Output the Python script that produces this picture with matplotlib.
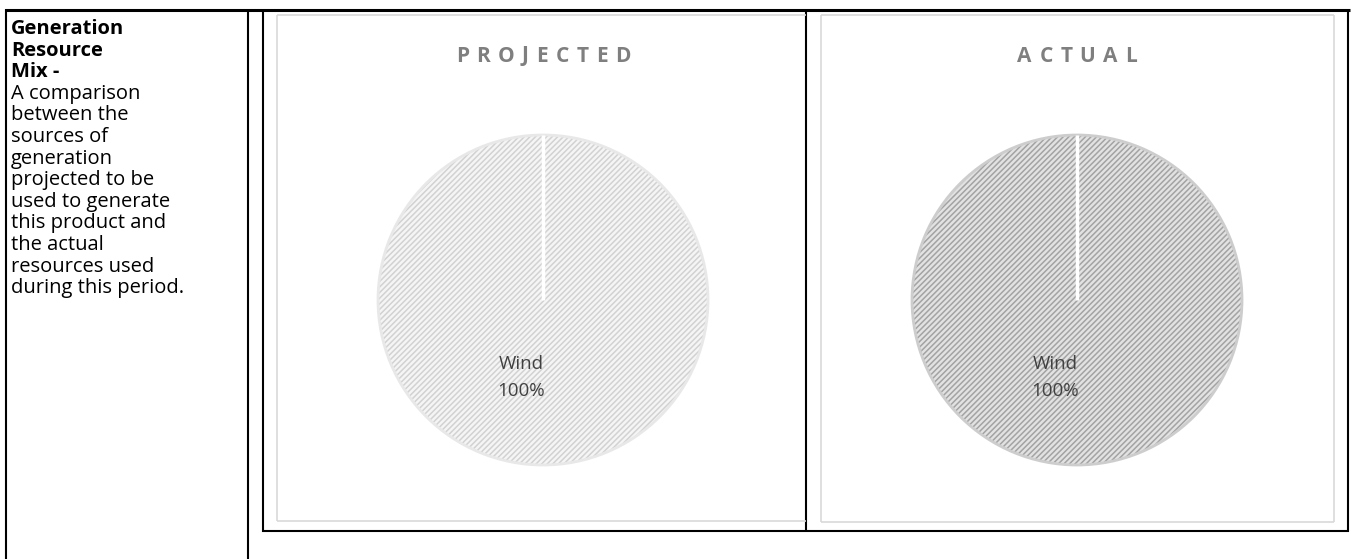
import matplotlib
matplotlib.use('Agg')
import matplotlib.pyplot as plt
from matplotlib.lines import Line2D
import numpy as np

# data
categories = ['Wind']
projected = [100]
actual = [100]
panel_titles = ['PROJECTED', 'ACTUAL']
left_heading = ['Generation', 'Resource', 'Mix -']
left_body = ['A comparison', 'between the', 'sources of', 'generation',
             'projected to be', 'used to generate', 'this product and',
             'the actual', 'resources used', 'during this period.']

W, H = 1351, 559
plt.rcParams['font.family'] = ['Open Sans', 'DejaVu Sans']
plt.rcParams['hatch.linewidth'] = 1.1

fig = plt.figure(figsize=(W / 100, H / 100), dpi=100)


def px(x, y):
    return x / W, 1 - y / H


def hline(x0, x1, y, color='black', lw=1.5):
    a, b = px(x0, y)
    c, _ = px(x1, y)
    fig.add_artist(Line2D([a, c], [b, b], color=color, lw=lw, solid_capstyle='butt'))


def vline(x, y0, y1, color='black', lw=1.5):
    a, b = px(x, y0)
    _, d = px(x, y1)
    fig.add_artist(Line2D([a, a], [b, d], color=color, lw=lw, solid_capstyle='butt'))


# table lines
hline(5, 1350, 10, lw=2.2)
vline(6, 9, 559)
vline(248, 9, 559)
vline(263, 10, 532)
hline(262, 1349, 531)
vline(806, 10, 532)
vline(1348, 9, 532)

# light grey chart frames
grey = '#d9d9d9'
hline(277, 806, 15, grey, 1.2)
hline(277, 806, 521, grey, 1.2)
vline(277, 15, 521, grey, 1.2)
hline(821, 1334, 15, grey, 1.2)
hline(821, 1334, 522, grey, 1.2)
vline(821, 15, 522, grey, 1.2)
vline(1334, 15, 522, grey, 1.2)

# left column text
fs = 14.5
y = 29
for line in left_heading:
    fig.text(*px(11, y), line, fontsize=fs, fontweight='bold', va='center', ha='left')
    y += 21.6
for line in left_body:
    fig.text(*px(11, y), line, fontsize=fs, va='center', ha='left')
    y += 21.6


def spaced_title(text, cx, cy, size=15, gap=7.0):
    r = fig.canvas.get_renderer()
    widths = []
    for ch in text:
        t = fig.text(0, 0, ch, fontsize=size, fontweight='bold')
        widths.append(t.get_window_extent(renderer=r).width)
        t.remove()
    total = sum(widths) + gap * (len(text) - 1)
    x = cx - total / 2
    for ch, w in zip(text, widths):
        fig.text(*px(x, cy), ch, fontsize=size, fontweight='bold', color='#7f7f7f',
                 va='center', ha='left')
        x += w + gap


panels = [(543, projected, '#f5f5f5', '#d2d2d2', '#e8e8e8'),
          (1077, actual, '#e2e2e2', '#a3a3a3', '#cdcdcd')]
r = 165
cy = 300
for (cx, vals, face, hatchc, rim), title in zip(panels, panel_titles):
    ax = fig.add_axes([(cx - r) / W, 1 - (cy + r) / H, 2 * r / W, 2 * r / H])
    wedges, _ = ax.pie(vals, startangle=90, counterclock=False, colors=[face],
                       wedgeprops=dict(hatch='//////', edgecolor=hatchc, linewidth=0))
    _, _, autotexts = ax.pie(vals, startangle=90, counterclock=False, colors=['none'],
                             autopct=lambda p: f'{categories[0]}\n{p:.0f}%',
                             pctdistance=0.47,
                             textprops=dict(color='#404040', fontsize=13.5,
                                            linespacing=1.7),
                             wedgeprops=dict(edgecolor=rim, linewidth=2))
    for t in autotexts:
        tx, ty = t.get_position()
        t.set_position((tx - 0.13, ty))
    # boundary line of the wedge at its start angle
    w = wedges[0]
    ang = np.deg2rad(w.theta2)
    ax.plot([w.center[0], w.center[0] + w.r * np.cos(ang)],
            [w.center[1], w.center[1] + w.r * np.sin(ang)],
            color='white', lw=2.5, solid_capstyle='butt')
    ax.set_xlim(-1.0, 1.0)
    ax.set_ylim(-1.0, 1.0)
    ax.set_aspect('equal')
    ax.axis('off')
    spaced_title(title, cx, 56, gap=7.5)

fig.savefig('out.png', dpi=100)
